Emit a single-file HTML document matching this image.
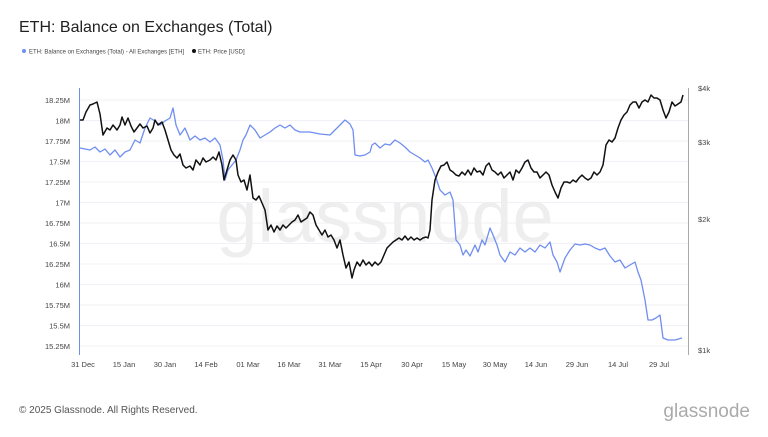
<!DOCTYPE html>
<html><head><meta charset="utf-8"><style>
body{margin:0;width:768px;height:432px;background:#fff;overflow:hidden;font-family:"Liberation Sans",sans-serif}
</style></head><body>
<svg width="768" height="432" viewBox="0 0 768 432" xmlns="http://www.w3.org/2000/svg" font-family="Liberation Sans, sans-serif">
<text x="19" y="32" font-size="16" fill="#222">ETH: Balance on Exchanges (Total)</text>
<circle cx="24" cy="51" r="2" fill="#6f8ef0"/>
<text x="29" y="53.5" font-size="6" fill="#444">ETH: Balance on Exchanges (Total) - All Exchanges [ETH]</text>
<circle cx="194" cy="51" r="2" fill="#111"/>
<text x="198" y="53.5" font-size="6" fill="#444">ETH: Price [USD]</text>
<g stroke="#f0f1f6" stroke-width="1">
<line x1="80" x2="688" y1="100" y2="100"/><line x1="80" x2="688" y1="120.5" y2="120.5"/><line x1="80" x2="688" y1="141" y2="141"/><line x1="80" x2="688" y1="161.5" y2="161.5"/><line x1="80" x2="688" y1="182" y2="182"/><line x1="80" x2="688" y1="202.5" y2="202.5"/><line x1="80" x2="688" y1="223" y2="223"/><line x1="80" x2="688" y1="243.5" y2="243.5"/><line x1="80" x2="688" y1="264" y2="264"/><line x1="80" x2="688" y1="284.5" y2="284.5"/><line x1="80" x2="688" y1="305" y2="305"/><line x1="80" x2="688" y1="325.5" y2="325.5"/><line x1="80" x2="688" y1="346" y2="346"/>
</g>
<text x="385" y="242" font-size="74" fill="#eeeeee" text-anchor="middle">glassnode</text>
<line x1="79.5" y1="88" x2="79.5" y2="355" stroke="#6f8ef0" stroke-width="1"/>
<line x1="688.5" y1="88" x2="688.5" y2="355" stroke="#aaa" stroke-width="1"/>
<g font-size="7.5" fill="#444" text-anchor="end">
<text x="70" y="103">18.25M</text><text x="70" y="123.5">18M</text><text x="70" y="144">17.75M</text><text x="70" y="164.5">17.5M</text><text x="70" y="185">17.25M</text><text x="70" y="205.5">17M</text><text x="70" y="226">16.75M</text><text x="70" y="246.5">16.5M</text><text x="70" y="267">16.25M</text><text x="70" y="287.5">16M</text><text x="70" y="308">15.75M</text><text x="70" y="328.5">15.5M</text><text x="70" y="349">15.25M</text>
</g>
<g font-size="7.5" fill="#444">
<text x="698" y="91">$4k</text><text x="698" y="145">$3k</text><text x="698" y="222">$2k</text><text x="698" y="353">$1k</text>
</g>
<g font-size="7.5" fill="#444" text-anchor="middle">
<text x="83" y="367">31 Dec</text><text x="124" y="367">15 Jan</text><text x="165" y="367">30 Jan</text><text x="206" y="367">14 Feb</text><text x="248" y="367">01 Mar</text><text x="289" y="367">16 Mar</text><text x="330" y="367">31 Mar</text><text x="371" y="367">15 Apr</text><text x="412" y="367">30 Apr</text><text x="454" y="367">15 May</text><text x="495" y="367">30 May</text><text x="536" y="367">14 Jun</text><text x="577" y="367">29 Jun</text><text x="618" y="367">14 Jul</text><text x="659" y="367">29 Jul</text>
</g>
<polyline fill="none" stroke="#6f8ef0" stroke-width="1.3" stroke-linejoin="round" points="80,148 90,150 95,147 100,152 105,149 110,155 115,150 120,157 125,152 130,150 135,140 140,143 145,128 150,118 155,121 160,125 165,121 170,118 173,108 176,125 180,135 185,128 190,140 195,136 200,140 205,138 210,142 215,138 220,145 223,160 225,180 228,170 232,165 236,160 240,150 243,140 246,135 250,125 255,130 260,138 265,135 270,132 275,128 280,125 285,128 290,125 295,130 300,132 310,132 320,134 330,135 335,130 340,125 345,120 350,124 353,130 355,155 360,156 365,155 370,152 372,145 375,143 380,148 385,144 390,145 395,140 400,143 405,147 410,152 415,155 420,158 425,162 428,160 432,168 436,178 440,190 445,195 450,192 453,200 456,240 460,245 463,255 466,250 470,256 475,245 478,252 482,240 485,245 490,228 493,235 497,245 500,255 505,262 510,252 515,255 520,248 525,252 530,248 535,252 540,245 545,248 550,242 553,255 557,262 560,272 565,258 570,250 575,244 580,245 585,244 590,245 595,248 600,250 605,248 610,256 615,262 620,260 625,268 630,265 635,262 638,272 641,280 645,300 648,320 652,320 656,318 660,315 663,338 668,340 675,340 682,338"/>
<polyline fill="none" stroke="#111" stroke-width="1.5" stroke-linejoin="round" points="80,120 83,120 86,112 90,105 93,104 97,102 100,114 103,135 107,128 110,130 113,125 117,130 120,125 122,117 125,125 128,118 131,126 134,132 137,128 140,124 143,128 147,126 150,133 153,128 155,120 158,125 162,122 165,130 168,140 171,150 174,155 177,158 180,154 183,165 186,168 190,166 193,170 196,160 200,165 203,158 206,162 210,160 213,157 216,160 219,152 222,165 224,180 227,170 230,160 233,155 236,160 238,175 241,182 244,180 247,190 250,175 253,198 256,200 259,196 262,203 265,210 268,230 271,225 274,232 277,226 280,230 283,225 286,228 289,225 292,222 295,220 298,215 301,222 304,220 307,218 310,212 313,215 316,225 319,230 322,235 325,230 328,237 331,235 334,240 337,248 340,240 343,255 346,268 349,262 352,278 354,270 357,262 360,266 363,260 366,265 369,262 372,266 375,262 378,265 381,262 384,255 387,248 390,245 393,242 396,240 399,238 402,240 405,236 408,240 411,237 414,240 417,238 420,240 423,238 426,237 428,238 430,230 432,200 435,180 438,172 441,166 444,165 447,162 450,170 453,172 456,175 459,176 462,172 465,175 468,170 471,175 474,168 477,172 480,171 483,175 486,166 489,163 492,170 495,172 498,175 501,172 504,178 507,175 510,172 513,180 516,170 519,173 522,168 525,162 528,160 531,168 534,172 537,172 540,178 543,175 546,172 549,175 552,185 555,192 558,198 561,188 564,182 567,182 570,183 573,180 576,182 579,178 582,175 585,178 588,180 591,178 594,172 597,175 600,172 603,165 606,145 609,140 612,142 615,138 618,128 621,120 624,115 627,112 630,105 633,102 636,102 639,108 642,102 645,100 648,102 651,95 654,98 657,98 660,100 663,110 666,118 669,112 672,102 675,106 678,104 681,102 683,95"/>
<text x="19" y="413" font-size="10" fill="#555">© 2025 Glassnode. All Rights Reserved.</text>
<text x="750" y="417" font-size="19" fill="#aaa" text-anchor="end">glassnode</text>
</svg>
</body></html>
